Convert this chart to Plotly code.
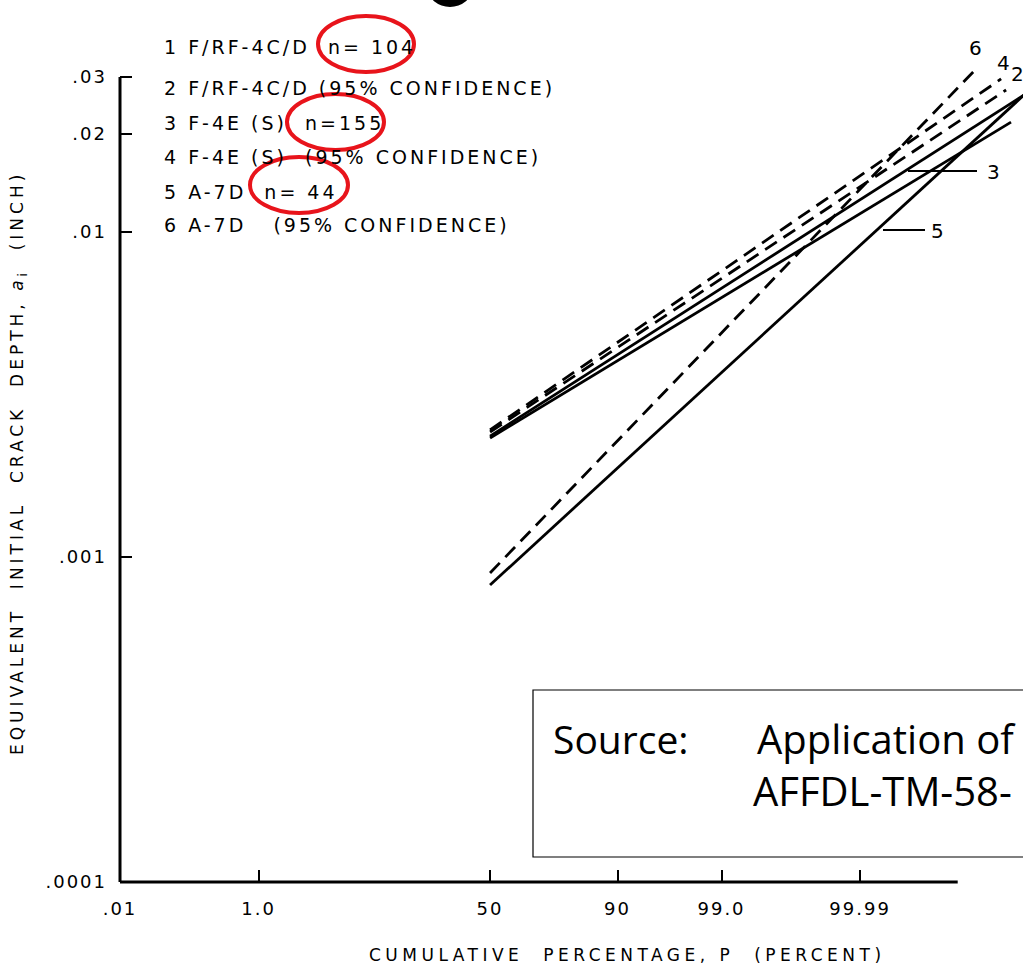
import plotly.graph_objects as go
from statistics import NormalDist
import math

# ---------------- data ----------------
line_ids = ["1", "2", "3", "4", "5", "6"]
series_names = ["F/RF-4C/D n=104", "F/RF-4C/D (95% CONFIDENCE)",
                "F-4E (S) n=155", "F-4E (S) (95% CONFIDENCE)",
                "A-7D n=44", "A-7D (95% CONFIDENCE)"]
p_start = [50, 50, 50, 50, 50, 50]                       # cumulative percentage
p_end = [99.9999918, 99.9999893, 99.999996, 99.999986, 99.999996, 99.9999484]
a_start = [0.002323, 0.002425, 0.002355, 0.002460, 0.000820, 0.000893]  # inch
a_end = [0.02178, 0.02735, 0.02641, 0.02958, 0.02641, 0.03177]

x_tick_p = [0.01, 1.0, 50, 90, 99.0, 99.99]
x_tick_text = [".01", "1.0", "50", "90", "99.0", "99.99"]
y_tick_vals = [0.0001, 0.001, 0.01, 0.02, 0.03]
y_tick_text = [".0001", ".001", ".01", ".02", ".03"]
AXIS_END_P = 99.99987

legend_lines = [
    "1 F/RF-4C/D\u00a0 n= 104",
    "2 F/RF-4C/D (95% CONFIDENCE)",
    "3 F-4E (S)\u00a0 n=155",
    "4 F-4E (S)\u00a0 (95% CONFIDENCE)",
    "5 A-7D\u00a0 n= 44",
    "6 A-7D\u00a0\u00a0 (95% CONFIDENCE)",
]

# ---------------- styling ----------------
W, H = 1023, 969
ML, MR, MT, MB = 120, 0, 30, 87
PW, PH = W - ML - MR, H - MT - MB
PX_PER_Z = 99.5
PX_PER_DEC = 325.0
FONT = "DejaVu Sans"
dashed = [False, True, False, True, False, True]

ND = NormalDist()


def zval(p):
    return ND.inv_cdf(p / 100.0)


x0 = zval(x_tick_p[0])
x_range = [x0, x0 + PW / PX_PER_Z]
y_range = [-4.0, -4.0 + PH / PX_PER_DEC]


def px(xp):   # pixel -> paper x
    return (xp - ML) / PW


def py(yp):   # pixel -> paper y
    return (H - MB - yp) / PH


def sp(txt, ls):
    return f'<span style="letter-spacing:{ls}px">{txt}</span>'


fig = go.Figure()
for i in range(len(line_ids)):
    fig.add_trace(go.Scatter(
        x=[zval(p_start[i]), zval(p_end[i])],
        y=[a_start[i], a_end[i]],
        mode="lines",
        name=series_names[i],
        line=dict(color="black", width=2.8,
                  dash="14px,8px" if dashed[i] else "solid"),
        showlegend=False, hoverinfo="skip",
    ))

shapes = []
# axis lines
x_end_paper = (zval(AXIS_END_P) - x_range[0]) / (x_range[1] - x_range[0])
y_top_paper = (math.log10(y_tick_vals[-1]) - y_range[0]) / (y_range[1] - y_range[0])
shapes.append(dict(type="line", xref="paper", yref="paper", x0=0, x1=x_end_paper,
                   y0=0, y1=0, line=dict(color="black", width=3)))
shapes.append(dict(type="line", xref="paper", yref="paper", x0=0, x1=0,
                   y0=0, y1=y_top_paper, line=dict(color="black", width=3)))
# leader lines for labels 3 and 5
shapes.append(dict(type="line", xref="paper", yref="paper", x0=px(908), x1=px(977),
                   y0=py(171), y1=py(171), line=dict(color="black", width=2)))
shapes.append(dict(type="line", xref="paper", yref="paper", x0=px(883), x1=px(925),
                   y0=py(230), y1=py(230), line=dict(color="black", width=2)))
# red ellipses
for (a, b, c, d) in [(318, 16, 414, 72), (287, 94, 384, 150), (250, 157, 348, 213)]:
    shapes.append(dict(type="circle", xref="paper", yref="paper",
                       x0=px(a), x1=px(c), y0=py(d), y1=py(b),
                       line=dict(color="#e8141b", width=4)))
# source box (extends past right edge)
shapes.append(dict(type="rect", xref="paper", yref="paper",
                   x0=px(533), x1=px(1200), y0=py(857), y1=py(690),
                   line=dict(color="black", width=1.2), fillcolor="white"))
# fragment of cropped slide title glyph at top
shapes.append(dict(type="circle", xref="paper", yref="paper",
                   x0=px(428), x1=px(472), y0=py(7), y1=py(-30),
                   line=dict(width=0), fillcolor="black"))

ann = []
for k, t in enumerate(legend_lines):
    ann.append(dict(text=sp(t, 3), x=px(162), y=py([47, 88, 123, 157, 192, 225][k]),
                    xref="paper", yref="paper", xanchor="left", yanchor="middle",
                    showarrow=False, font=dict(family=FONT, size=19, color="black")))
for lab, (xx, yy) in zip(["6", "4", "2", "3", "5"],
                         [(975, 48), (1003, 63), (1017, 74), (993, 172), (937, 231)]):
    ann.append(dict(text=lab, x=px(xx), y=py(yy), xref="paper", yref="paper",
                    xanchor="center", yanchor="middle", showarrow=False,
                    font=dict(family=FONT, size=20, color="black")))
ann.append(dict(text=sp("EQUIVALENT\u00a0 INITIAL\u00a0 CRACK\u00a0 DEPTH, <i>a</i><sub>i</sub>\u00a0 (INCH)", 4),
                x=px(19), y=py(463), xref="paper", yref="paper", textangle=-90,
                xanchor="center", yanchor="middle", showarrow=False,
                font=dict(family=FONT, size=17, color="black")))
ann.append(dict(text=sp("CUMULATIVE\u00a0 PERCENTAGE, P\u00a0 (PERCENT)", 4.5),
                x=px(627), y=py(955), xref="paper", yref="paper",
                xanchor="center", yanchor="middle", showarrow=False,
                font=dict(family=FONT, size=17, color="black")))
ann.append(dict(text="Source:", x=px(551), y=py(738), xref="paper", yref="paper",
                xanchor="left", yanchor="middle", showarrow=False,
                font=dict(family="Open Sans", size=39, color="black")))
ann.append(dict(text="Application of", x=px(755), y=py(738), xref="paper", yref="paper",
                xanchor="left", yanchor="middle", showarrow=False,
                font=dict(family="Open Sans", size=40, color="black")))
ann.append(dict(text="AFFDL-TM-58-", x=px(751), y=py(790), xref="paper", yref="paper",
                xanchor="left", yanchor="middle", showarrow=False,
                font=dict(family="Open Sans", size=40, color="black")))

fig.update_layout(
    width=W, height=H, margin=dict(l=ML, r=MR, t=MT, b=MB, pad=0),
    paper_bgcolor="white", plot_bgcolor="white",
    shapes=shapes, annotations=ann, showlegend=False,
    xaxis=dict(range=x_range, tickvals=[zval(p) for p in x_tick_p],
               ticktext=[sp(t, 2) for t in x_tick_text],
               ticks="inside", ticklen=12, tickwidth=2, tickcolor="black",
               showgrid=False, zeroline=False, showline=False,
               ticklabelstandoff=14,
               tickfont=dict(family=FONT, size=18, color="black")),
    yaxis=dict(type="log", range=y_range, tickvals=y_tick_vals,
               ticktext=[sp(t, 2) for t in y_tick_text],
               ticks="inside", ticklen=12, tickwidth=2, tickcolor="black",
               showgrid=False, zeroline=False, showline=False,
               ticklabelstandoff=12,
               tickfont=dict(family=FONT, size=18, color="black")),
)

fig.write_html("out.html")
